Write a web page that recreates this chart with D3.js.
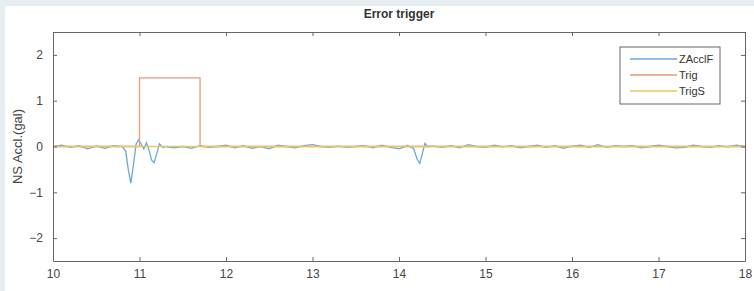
<!DOCTYPE html>
<html>
<head>
<meta charset="utf-8">
<script src="https://cdn.jsdelivr.net/npm/d3@7"></script>
<style>
  body { margin: 0; background: #e6eef2; }
  svg { display: block; font-family: "Liberation Sans", Arial, sans-serif; }
</style>
</head>
<body>
<svg id="chart" width="754" height="291"></svg>
<script>
// data
var zTime = [10.0,10.1,10.2,10.3,10.4,10.5,10.6,10.7,10.8,
  10.84,10.87,10.9,10.93,10.96,10.99,11.02,11.05,11.08,11.11,11.14,11.17,11.2,11.23,11.27,11.3,
  11.4,11.5,11.6,11.7,11.8,11.9,12.0,12.1,12.2,12.3,12.4,12.5,12.6,12.7,12.8,12.9,13.0,13.1,13.2,13.3,13.4,13.5,13.6,13.7,13.8,13.9,14.0,14.1,
  14.17,14.21,14.24,14.27,14.3,14.33,
  14.4,14.5,14.6,14.7,14.8,14.9,15.0,15.1,15.2,15.3,15.4,15.5,15.6,15.7,15.8,15.9,16.0,16.1,16.2,16.3,16.4,16.5,16.6,16.7,16.8,16.9,17.0,17.1,17.2,17.3,17.4,17.5,17.6,17.7,17.8,17.9,18.0];
var zAcclF = [0.0,0.03,-0.02,0.02,-0.05,0.01,-0.04,0.02,0.0,
  -0.1,-0.5,-0.8,-0.4,0.05,0.15,0.05,-0.05,0.08,-0.08,-0.3,-0.35,-0.15,0.06,-0.02,0.0,
  -0.03,0.0,-0.04,0.02,-0.02,0.0,0.03,-0.03,0.02,-0.04,0.0,-0.05,0.03,0.0,-0.03,0.02,0.04,0.0,-0.02,0.01,-0.02,0.0,0.02,-0.03,0.03,-0.02,-0.05,0.02,
  -0.05,-0.28,-0.37,-0.15,0.07,0.0,
  0.01,-0.02,0.02,-0.03,0.04,0.0,-0.02,0.03,-0.01,0.02,-0.03,0.0,0.03,-0.02,0.02,-0.04,0.01,0.03,-0.02,0.04,-0.02,0.02,0.0,0.02,-0.03,0.0,0.03,0.0,-0.03,-0.02,0.03,0.0,-0.02,0.02,-0.01,0.03,0.0];
var trigTime = [10, 11, 11, 11.7, 11.7, 18];
var trig = [0, 0, 1.5, 1.5, 0, 0];
var trigSTime = [10, 18];
var trigS = [0, 0];
var xTicks = [10, 11, 12, 13, 14, 15, 16, 17, 18];
var yTicks = [-2, -1, 0, 1, 2];
var seriesNames = ["ZAcclF", "Trig", "TrigS"];
var seriesColors = ["#6aa8dc", "#e89a7c", "#e6c860"];

var svg = d3.select("#chart");
// white panel
svg.append("rect").attr("x", 5).attr("y", 6).attr("width", 749).attr("height", 285).attr("fill", "#fff");

var margin = { top: 32, right: 9, bottom: 30, left: 53 },
  width = 754 - margin.left - margin.right,
  height = 291 - margin.top - margin.bottom;

var x = d3.scaleLinear().domain([10, 18]).range([0, width]);
var y = d3.scaleLinear().domain([-2.5, 2.5]).range([height, 0]);

var g = svg.append("g").attr("transform", "translate(" + margin.left + "," + margin.top + ")");

var line = d3.line().x(function (d) { return x(d[0]); }).y(function (d) { return y(d[1]); });

var series = [
  d3.zip(zTime, zAcclF),
  d3.zip(trigTime, trig),
  d3.zip(trigSTime, trigS)
];
series.forEach(function (s, i) {
  g.append("path").datum(s).attr("d", line)
    .attr("fill", "none").attr("stroke", seriesColors[i]).attr("stroke-width", 1.3);
});

// axes, ticks inside
function styleAxis(sel) {
  sel.select(".domain").attr("stroke", "#666");
  sel.selectAll(".tick line").attr("stroke", "#666");
  sel.selectAll(".tick text").attr("fill", "#444").attr("font-size", 12);
}
g.append("g").attr("transform", "translate(0," + height + ")")
  .call(d3.axisBottom(x).tickValues(xTicks).tickSizeInner(-4).tickSizeOuter(0).tickPadding(8))
  .call(styleAxis);
g.append("g")
  .call(d3.axisTop(x).tickValues(xTicks).tickSizeInner(-4).tickSizeOuter(0).tickFormat(""))
  .call(styleAxis);
g.append("g")
  .call(d3.axisLeft(y).tickValues(yTicks).tickFormat(d3.format("d")).tickSizeInner(-4).tickSizeOuter(0).tickPadding(10))
  .call(styleAxis);
g.append("g").attr("transform", "translate(" + width + ",0)")
  .call(d3.axisRight(y).tickValues(yTicks).tickSizeInner(-4).tickSizeOuter(0).tickFormat(""))
  .call(styleAxis);

// title and y label
svg.append("text").attr("x", margin.left + width / 2).attr("y", 18)
  .attr("text-anchor", "middle").attr("font-size", 12).attr("font-weight", "bold")
  .attr("fill", "#333").text("Error trigger");
svg.append("text").attr("transform", "translate(22," + (margin.top + y(0)) + ") rotate(-90)")
  .attr("text-anchor", "middle").attr("font-size", 13).attr("fill", "#444").text("NS Accl.(gal)");

// legend
var lg = svg.append("g").attr("transform", "translate(620,47)");
lg.append("rect").attr("width", 100).attr("height", 57).attr("fill", "#fff").attr("stroke", "#666");
seriesNames.forEach(function (n, i) {
  var yy = 12 + i * 16;
  lg.append("line").attr("x1", 10).attr("x2", 57).attr("y1", yy).attr("y2", yy)
    .attr("stroke", seriesColors[i]).attr("stroke-width", 1.3);
  lg.append("text").attr("x", 59).attr("y", yy + 4).attr("font-size", 11).attr("fill", "#333").text(n);
});
</script>
</body>
</html>
